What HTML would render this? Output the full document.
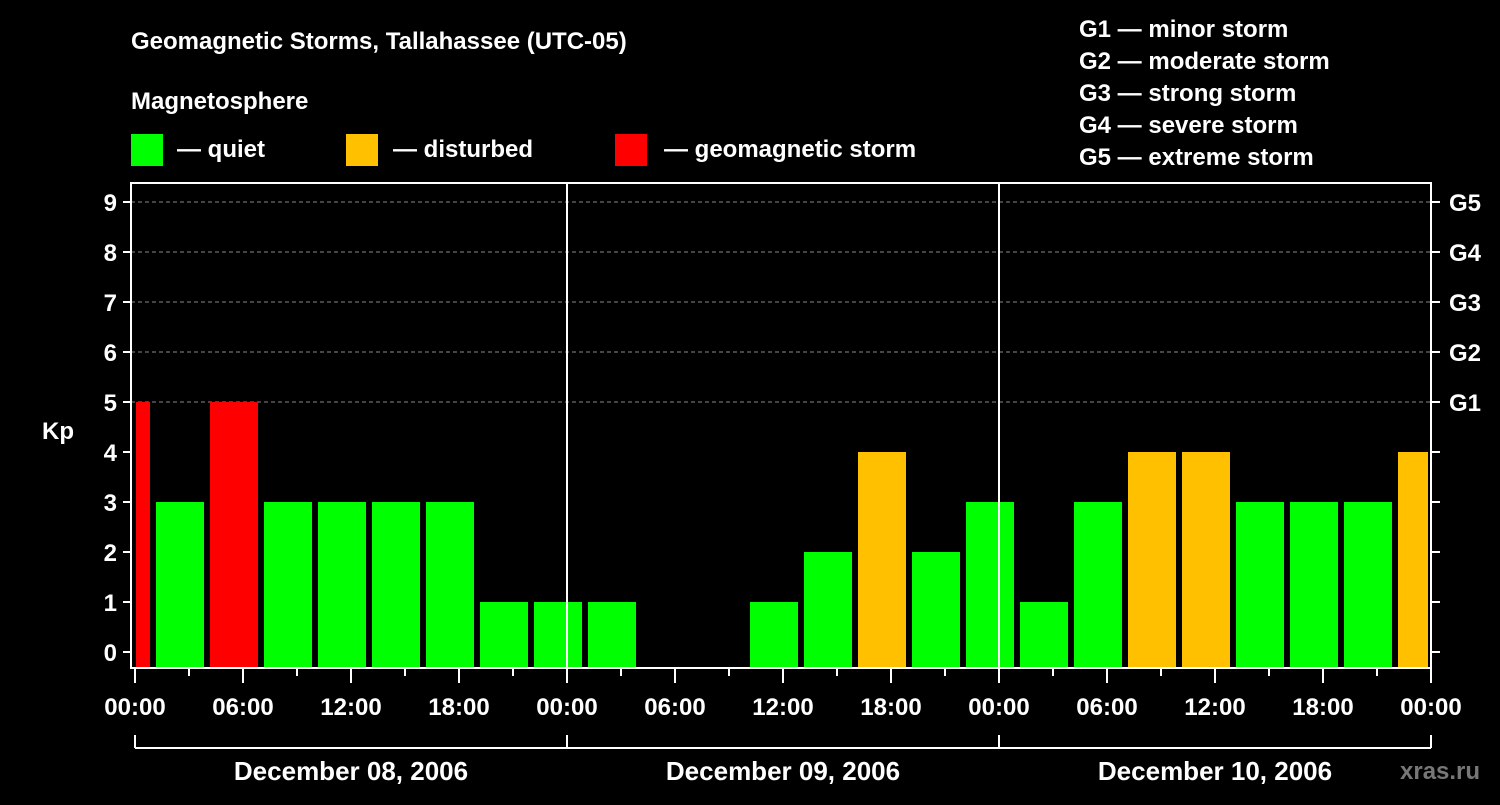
<!DOCTYPE html>
<html><head><meta charset="utf-8"><style>
body{margin:0;background:#000;width:1500px;height:800px;overflow:hidden}
svg text{font-family:"Liberation Sans",sans-serif;font-weight:bold;fill:#fff}
</style></head><body>
<svg id="c" width="1500" height="800" xmlns="http://www.w3.org/2000/svg">
<text x="131" y="49" font-size="24">Geomagnetic Storms, Tallahassee (UTC-05)</text>
<text x="131" y="109" font-size="24">Magnetosphere</text>
<g><rect x="131" y="134" width="32" height="32" fill="#00ff00"/><text x="177" y="157" font-size="24">— quiet</text></g>
<g><rect x="346" y="134" width="32" height="32" fill="#ffc000"/><text x="393" y="157" font-size="24">— disturbed</text></g>
<g><rect x="615" y="134" width="32" height="32" fill="#ff0000"/><text x="664" y="157" font-size="24">— geomagnetic storm</text></g>
<g font-size="24">
<text x="1079" y="37">G1 — minor storm</text><text x="1079" y="69">G2 — moderate storm</text><text x="1079" y="101">G3 — strong storm</text><text x="1079" y="133">G4 — severe storm</text><text x="1079" y="165">G5 — extreme storm</text></g>
<text x="42" y="439" font-size="24">Kp</text>
<text x="1400" y="779" font-size="24" fill="#888" style="fill:#777">xras.ru</text>
<g id="grid"></g><g id="bars"></g><g id="axes"></g>
</svg>
<script>
const barHours=[-2,1,4,7,10,13,16,19,22,25,28,31,34,37,40,43,46,49,52,55,58,61,64,67,70];
const kpValues=[5,3,5,3,3,3,3,1,1,1,0,0,1,2,4,2,3,1,3,4,4,3,3,3,4];
const yTicks=[0,1,2,3,4,5,6,7,8,9];
const gLabels=["G1","G2","G3","G4","G5"];
const gLevels=[5,6,7,8,9];
const xHours=[0,6,12,18,24,30,36,42,48,54,60,66,72];
const xLabels=["00:00","06:00","12:00","18:00","00:00","06:00","12:00","18:00","00:00","06:00","12:00","18:00","00:00"];
const dayLabels=["December 08, 2006","December 09, 2006","December 10, 2006"];
const NS="http://www.w3.org/2000/svg";
const L=131,R=1431,T=183,B=668,X0=135;
const xs=h=>X0+h*18, ys=v=>652-v*50;
function mk(p,t,a){const e=document.createElementNS(NS,t);for(const k in a)e.setAttribute(k,a[k]);p.appendChild(e);return e;}
const grid=document.getElementById('grid'),bars=document.getElementById('bars'),axes=document.getElementById('axes');
gLevels.forEach((v,i)=>{
 const l=mk(grid,'line',{x1:L,x2:R,y1:ys(v),y2:ys(v),stroke:'#888','stroke-dasharray':'4,3','stroke-width':1});
 
 
 const t=mk(axes,'text',{x:1449,y:ys(v)+9,'font-size':24});t.textContent=gLabels[i];
 
 
});
barHours.forEach((h,i)=>{
 const v=kpValues[i]; if(v<=0)return;
 let x1=Math.max(xs(h)+3,L+5),x2=Math.min(xs(h+3)-3,R-3);
 const c=v>=5?'#ff0000':v>=4?'#ffc000':'#00ff00';
 const r=mk(bars,'rect',{x:x1,y:ys(v),width:x2-x1,height:B-ys(v),fill:c});
 
 
});
// day separators
[24,48].forEach(h=>{const l=mk(axes,'line',{x1:xs(h),x2:xs(h),y1:T,y2:B,stroke:'#fff','stroke-width':2});
 
 });
const fr=mk(axes,'rect',{x:L,y:T,width:R-L,height:B-T,fill:'none',stroke:'#fff','stroke-width':2});


yTicks.forEach(v=>{
 mk(axes,'line',{x1:L-8,x2:L,y1:ys(v),y2:ys(v),stroke:'#fff','stroke-width':2});
 mk(axes,'line',{x1:R,x2:R+9,y1:ys(v),y2:ys(v),stroke:'#fff','stroke-width':2});
 const t=mk(axes,'text',{x:117,y:ys(v)+9,'font-size':24,'text-anchor':'end'});t.textContent=v;
 
 
});
for(let h=0;h<=72;h+=3){mk(axes,'line',{x1:xs(h),x2:xs(h),y1:B,y2:B+(h%6?8:15),stroke:'#fff','stroke-width':2});}
xHours.forEach((h,i)=>{const t=mk(axes,'text',{x:xs(h),y:715,'font-size':24,'text-anchor':'middle'});t.textContent=xLabels[i];
 
 });
mk(axes,'line',{x1:xs(0),x2:xs(72),y1:748,y2:748,stroke:'#fff','stroke-width':2});
[0,24,48,72].forEach(h=>mk(axes,'line',{x1:xs(h),x2:xs(h),y1:735,y2:748,stroke:'#fff','stroke-width':2}));
dayLabels.forEach((d,i)=>{const t=mk(axes,'text',{x:xs(i*24+12),y:780,'font-size':26,'text-anchor':'middle'});t.textContent=d;
 
 });
</script>
</body></html>
